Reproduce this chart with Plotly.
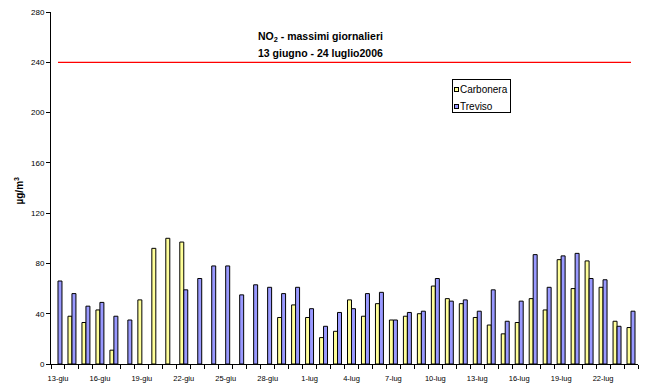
import plotly.graph_objects as go

# Giorni del periodo di monitoraggio
giorni = [
    "13-giu", "14-giu", "15-giu", "16-giu", "17-giu", "18-giu", "19-giu",
    "20-giu", "21-giu", "22-giu", "23-giu", "24-giu", "25-giu", "26-giu",
    "27-giu", "28-giu", "29-giu", "30-giu", "1-lug", "2-lug", "3-lug",
    "4-lug", "5-lug", "6-lug", "7-lug", "8-lug", "9-lug", "10-lug",
    "11-lug", "12-lug", "13-lug", "14-lug", "15-lug", "16-lug", "17-lug",
    "18-lug", "19-lug", "20-lug", "21-lug", "22-lug", "23-lug", "24-lug",
]

# Massimi giornalieri di NO2 (µg/m3); None = dato mancante
carbonera = [
    None, 38, 33, 43, 11, None, 51, 92, 100, 97, None, None, None, None,
    None, None, 37, 47, 37, 21, 26, 51, 38, 48, 35, 38, 40, 62,
    52, 48, 37, 31, 24, 33, 52, 43, 83, 60, 82, 61, 34, 29,
]
treviso = [
    66, 56, 46, 49, 38, 35, None, None, None, 59, 68, 78, 78, 55,
    63, 61, 56, 61, 44, 30, 41, 44, 56, 57, 35, 41, 42, 68,
    50, 51, 42, 59, 34, 50, 87, 61, 86, 88, 68, 67, 30, 42,
]

# Valore limite orario
soglia = 240

colori = {"Carbonera": "#FFFF99", "Treviso": "#9999FF"}

x_idx = list(range(len(giorni)))
etichette_idx = x_idx[::3]
etichette = giorni[::3]

W, H = 645, 387
M_L, M_R, M_T, M_B = 51, 7, 12, 23
PW, PH = W - M_L - M_R, H - M_T - M_B


def px_x(px):
    """Pixel orizzontale -> coordinata paper."""
    return (px - M_L) / PW


def px_y(py):
    """Pixel verticale (dall'alto) -> coordinata paper."""
    return (H - M_B - py) / PH


fig = go.Figure()
serie = [("Carbonera", carbonera), ("Treviso", treviso)]
for nome, valori in serie:
    fig.add_trace(go.Bar(
        x=x_idx, y=valori, name=nome,
        marker=dict(color=colori[nome], line=dict(color="black", width=1)),
        showlegend=False,
    ))
fig.add_trace(go.Scatter(
    x=x_idx, y=[soglia] * len(giorni), mode="lines", name="Limite",
    line=dict(color="#FF0000", width=1.2), showlegend=False,
    hoverinfo="skip",
))

font_base = dict(family="Liberation Sans, Arial, sans-serif", color="#000000")

# Legenda disegnata a mano: riquadro, quadratini e nomi delle serie
fig.add_annotation(
    text=" ", xref="paper", yref="paper",
    x=px_x(452), y=px_y(79), xanchor="left", yanchor="top",
    width=57, height=32, borderpad=0,
    bordercolor="#000000", borderwidth=1, bgcolor="white",
    showarrow=False, font=dict(**font_base, size=10),
)
for i, (nome, _) in enumerate(serie):
    cy = 89.5 + i * 16.7
    fig.add_annotation(
        text=" ", xref="paper", yref="paper",
        x=px_x(456.5), y=px_y(cy), xanchor="center", yanchor="middle",
        width=3, height=3, borderpad=0,
        bordercolor="#000000", borderwidth=1, bgcolor=colori[nome],
        showarrow=False, font=dict(**font_base, size=3),
    )
    fig.add_annotation(
        text=nome, xref="paper", yref="paper",
        x=px_x(458), y=px_y(cy), xanchor="left", yanchor="middle",
        showarrow=False, font=dict(**font_base, size=10),
    )

fig.add_annotation(
    text="<b>NO<sub>2</sub> - massimi giornalieri</b>",
    xref="paper", yref="paper", x=px_x(320), y=px_y(37),
    xanchor="center", yanchor="middle", showarrow=False,
    font=dict(**font_base, size=10.5),
)
fig.add_annotation(
    text="<b>13 giugno - 24 luglio2006</b>",
    xref="paper", yref="paper", x=px_x(320), y=px_y(53),
    xanchor="center", yanchor="middle", showarrow=False,
    font=dict(**font_base, size=10.5),
)
fig.add_annotation(
    text="<b>µg/m<sup>3</sup></b>",
    xref="paper", yref="paper", x=px_x(18.5), y=px_y(191),
    xanchor="center", yanchor="middle", showarrow=False,
    textangle=-90, font=dict(**font_base, size=10),
)

fig.update_layout(
    width=W, height=H,
    margin=dict(l=M_L, r=M_R, t=M_T, b=M_B, autoexpand=False),
    paper_bgcolor="white", plot_bgcolor="white",
    barmode="group", bargap=0.43, bargroupgap=0,
    font=dict(**font_base, size=8),
    showlegend=False,
    xaxis=dict(
        range=[-0.5, len(giorni) - 0.5], automargin=False,
        tickmode="array", tickvals=etichette_idx, ticktext=etichette,
        ticks="", showline=True, linecolor="black", linewidth=1,
        showgrid=False, zeroline=False, ticklabelstandoff=7,
        tickfont=dict(**font_base, size=7.5),
        minor=dict(
            tickmode="array",
            tickvals=[i - 0.5 for i in range(len(giorni) + 1)],
            ticks="outside", ticklen=4, tickcolor="black", tickwidth=1,
            showgrid=False,
        ),
    ),
    yaxis=dict(
        range=[0, 280], tickmode="linear", tick0=0, dtick=40,
        automargin=False,
        ticks="outside", ticklen=4, tickcolor="black",
        showline=True, linecolor="black", linewidth=1,
        showgrid=False, zeroline=False,
        tickfont=dict(**font_base, size=8),
    ),
)

fig.write_html("out.html")
